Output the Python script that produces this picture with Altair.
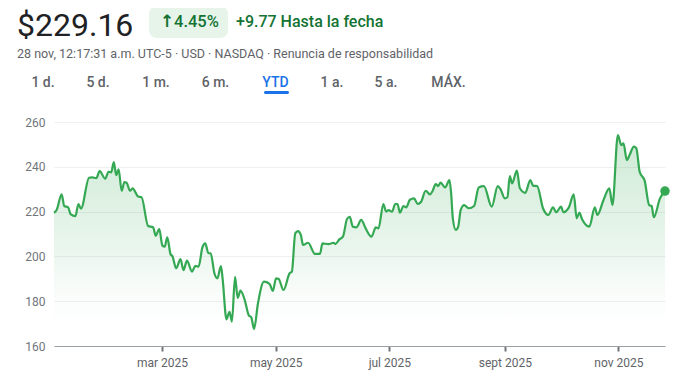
import altair as alt
import pandas as pd

# ---- data (day of year 2025, closing price) ----
day_of_year = [
    2.0, 3.4, 6.1, 7.5, 9.6, 10.9, 13.5, 15.1, 16.5, 20.8, 22.4, 24.7, 26.5, 29.5, 31.3, 32.7,
    34.1, 35.4, 36.7, 38.3, 39.8, 41.0, 42.8, 44.2, 47.2, 49.0, 52.5, 55.2, 56.6, 58.5,
    60.2, 61.4, 62.8, 64.6, 65.5, 67.6, 69.9, 71.5, 73.4, 76.1, 77.9, 79.6, 81.7, 83.2,
    84.9, 86.1, 88.1, 89.7, 91.6, 92.5, 94.6, 96.2, 97.5, 99.2, 100.6, 102.1, 104.4, 106.5,
    107.9, 109.4, 111.5, 114.7, 117.7, 119.5,
    121.2, 122.6, 125.2, 128.5, 129.7, 131.5, 133.0, 134.5, 135.7, 138.4, 142.1, 144.8,
    146.1, 149.3, 152.1, 153.0, 155.2, 157.1, 159.3, 160.8, 162.4, 164.4, 166.9, 169.3,
    172.4, 174.8, 176.2, 178.8, 180.3, 181.6,
    183.5, 185.2, 186.4, 187.7, 189.6, 191.1, 193.0, 195.3, 197.2, 199.1, 201.5, 203.8,
    205.3, 206.9, 208.2, 209.5, 212.0, 214.3, 215.2, 216.1, 217.7, 219.0, 220.3, 222.2,
    224.7, 227.5, 230.0, 232.8, 237.0, 240.2, 241.7,
    244.0, 245.4, 246.7, 247.9, 250.5, 252.1, 255.0, 257.7, 259.2, 261.4, 264.5, 267.4,
    269.9, 271.6, 274.2, 275.4, 278.4, 281.0, 282.6, 284.0, 285.5, 289.4, 292.3, 293.7,
    297.0, 300.1, 301.8, 304.7,
    306.5, 307.7, 309.5, 311.0, 313.3, 314.6, 316.4, 319.1, 321.5, 322.8, 324.0, 327.3, 330.0,
]
price = [
    219.5, 220.7, 227.7, 222.5, 221.9, 218.9, 218.0, 223.4, 221.3, 235.1, 235.3, 234.9, 238.1, 234.7, 237.8, 237.5,
    242.1, 236.3, 238.9, 229.3, 233.2, 232.9, 229.3, 230.4, 226.7, 226.4, 213.6, 213.0, 209.2, 212.2,
    204.8, 204.3, 208.5, 200.9, 200.2, 194.7, 198.8, 193.9, 198.1, 193.2, 195.8, 195.4, 204.1, 205.8,
    201.4, 201.4, 192.5, 190.2, 195.7, 190.2, 171.9, 175.3, 170.9, 190.9, 181.5, 184.7, 180.5, 173.8,
    172.8, 167.6, 179.1, 188.7, 187.7, 184.6,
    190.2, 189.9, 185.0, 192.5, 193.2, 210.3, 211.3, 209.6, 205.1, 206.1, 201.1, 201.1,
    205.8, 205.5, 206.1, 205.5, 207.6, 208.8, 216.7, 217.7, 213.3, 213.0, 216.3, 212.5,
    208.8, 213.0, 212.5, 223.4, 220.0, 220.7,
    220.0, 223.4, 223.4, 219.5, 222.5, 221.9, 225.2, 225.9, 223.4, 224.4, 229.3, 227.7,
    229.3, 232.3, 231.4, 232.9, 230.8, 234.1, 228.2, 217.0, 211.8, 213.3, 220.7, 222.9,
    221.5, 222.5, 230.8, 231.4, 222.2, 231.4, 230.0,
    225.9, 226.4, 235.9, 232.6, 238.3, 230.4, 228.4, 234.1, 231.6, 231.4, 221.5, 218.5,
    221.9, 219.7, 222.2, 219.7, 221.9, 227.7, 217.0, 219.5, 216.6, 213.3, 221.9, 218.5,
    225.2, 230.4, 222.9, 254.2,
    249.7, 250.5, 243.0, 245.3, 249.0, 248.3, 237.8, 233.7, 222.9, 222.5, 217.5, 225.9, 229.16,
]
y_ticks = [160, 180, 200, 220, 240, 260]
month_labels = ["ene", "feb", "mar", "abr", "may", "jun", "jul", "ago", "sept", "oct", "nov", "dic"]
tick_months = [3, 5, 7, 9, 11]
tabs = ["1 d.", "5 d.", "1 m.", "6 m.", "YTD", "1 a.", "5 a.", "MÁX."]

price_text = "$229.16"
change_arrow = "↑"
change_pct = "4.45%"
change_abs = "+9.77 Hasta la fecha"
subtitle = "28 nov, 12:17:31 a.m. UTC-5 · USD · NASDAQ · Renuncia de responsabilidad"

df = pd.DataFrame({
    "date": pd.Timestamp("2025-01-01") + pd.to_timedelta([d - 1 for d in day_of_year], unit="D"),
    "price": price,
})
last = df.tail(1)

GREEN = "#34a853"
TEXT_GREEN = "#137333"
GRAY = "#5f6368"
FONT = "Roboto"

label_expr = "[" + ",".join(f"'{m}'" for m in month_labels) + "][month(datum.value)] + ' 2025'"

x_enc = alt.X(
    "date:T",
    scale=alt.Scale(domain=[df["date"].iloc[0].isoformat(), df["date"].iloc[-1].isoformat()], nice=False),
    axis=alt.Axis(
        values=[alt.DateTime(year=2025, month=m, date=1) for m in tick_months],
        labelExpr=label_expr,
        title=None, grid=False,
        domainColor="#9aa0a6", domainWidth=1,
        tickColor="#70757a", tickSize=5, tickWidth=2,
        labelColor=GRAY, labelFontSize=12, labelFont=FONT, labelPadding=6,
    ),
)
y_enc = alt.Y(
    "price:Q",
    scale=alt.Scale(domain=[160, 260], nice=False, zero=False),
    axis=alt.Axis(
        values=y_ticks, title=None, domain=False, ticks=False,
        gridColor="#eeeff1", gridWidth=1,
        labelColor="#70757a", labelFontSize=12, labelFont=FONT, labelPadding=9,
    ),
)

base = alt.Chart(df)
area = base.mark_area(
    color=alt.Gradient(
        gradient="linear",
        stops=[
            alt.GradientStop(color="rgba(52,168,83,0.24)", offset=0),
            alt.GradientStop(color="rgba(52,168,83,0.10)", offset=0.55),
            alt.GradientStop(color="rgba(255,255,255,0)", offset=1),
        ],
        x1=1, x2=1, y1=0, y2=1,
    ),
    interpolate="monotone",
).encode(x=x_enc, y=y_enc, y2=alt.datum(160))
line = base.mark_line(color=GREEN, strokeWidth=2.2, interpolate="monotone").encode(x=x_enc, y=y_enc)
dot = alt.Chart(last).mark_circle(color=GREEN, size=90, opacity=1).encode(x=x_enc, y=y_enc)


def txt(s, x, y, size, color, weight="normal", align="left", font=FONT):
    return alt.Chart(pd.DataFrame({"t": [s]})).mark_text(
        align=align, baseline="alphabetic", fontSize=size, color=color,
        fontWeight=weight, font=font,
    ).encode(text="t:N", x=alt.value(x), y=alt.value(y))


def box(x1, x2, y1, y2, color, radius):
    return alt.Chart(pd.DataFrame({"t": [0]})).mark_rect(color=color, cornerRadius=radius).encode(
        x=alt.value(x1), x2=alt.value(x2), y=alt.value(y1), y2=alt.value(y2)
    )


layers = [
    area, line, dot,
    txt(price_text, -37, -86, 32, "#202124"),
    box(95, 174, -116, -84, "#e6f4ea", 8),
    txt(change_arrow, 106, -95, 17, TEXT_GREEN, weight="bold", font="DejaVu Sans"),
    txt(change_pct, 120, -95, 16.5, TEXT_GREEN, weight=500),
    txt(change_abs, 182, -95, 16, TEXT_GREEN, weight=500),
    txt(subtitle, -37, -64, 12.5, GRAY),
]
tab_centers = [-11, 44, 102, 161.5, 221.5, 278, 332, 394.5]
for label, cx in zip(tabs, tab_centers):
    is_sel = label == "YTD"
    layers.append(txt(label, cx, -35, 14, "#1a73e8" if is_sel else GRAY, weight=500, align="center"))
layers.append(box(210, 235, -31, -28, "#1a73e8", 1.5))

chart = alt.layer(*layers).properties(
    width=611, height=224,
    autosize=alt.AutoSizeParams(type="none"),
    padding={"left": 46, "top": 114, "right": 17, "bottom": 25},
    background="white",
).configure_view(stroke=None)

chart.save("out.html", embed_options={"renderer": "svg", "actions": False})
